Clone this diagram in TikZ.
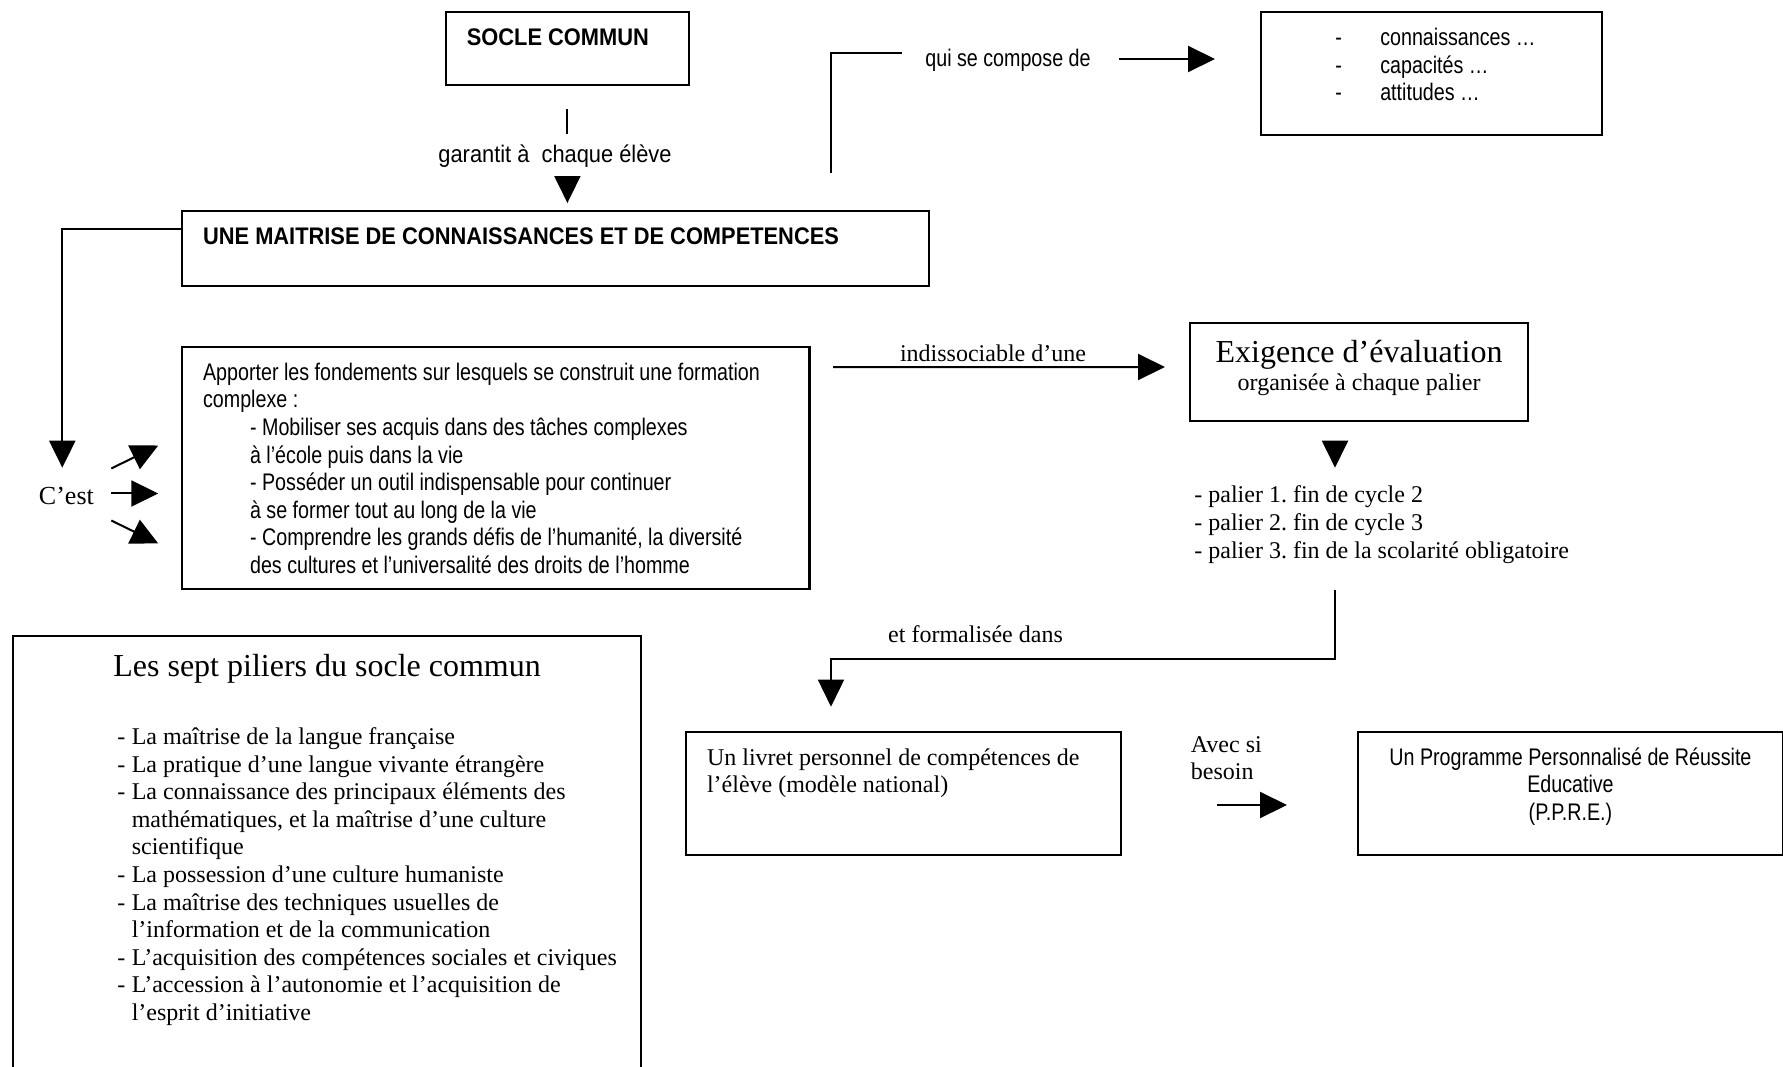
\documentclass[tikz,border=0pt]{standalone}
\usepackage{fontspec}
\setmainfont{Liberation Serif}
\setsansfont{Liberation Sans}[FakeStretch=0.82]
\newfontfamily\widesans{Liberation Sans}[FakeStretch=0.91]
\usetikzlibrary{arrows.meta}
\usetikzlibrary{calc}

% text of a Word-like box: width, height, content (top aligned)
\newcommand{\boxtext}[3]{\parbox[c][\dimexpr#2-14.2pt\relax][t]{\dimexpr#1-21.2pt\relax}{#3}}
\newcommand{\tiret}{\hspace*{26.5pt}\makebox[22.5pt][l]{-}}
\newcommand{\puce}{\par\hangindent=48.75pt\hangafter=1\hspace*{41.5pt}\makebox[7.25pt][l]{-}}
\newcommand{\lignes}[1]{\begin{tabular}[t]{@{}l@{}}#1\end{tabular}}

\begin{document}
\frenchspacing
\begin{tikzpicture}[x=0.5pt,y=0.5pt,yscale=-1,xscale=1,
  wbox/.style={draw, line width=1.1pt, anchor=north west, inner xsep=10.6pt, inner ysep=7.1pt,
    font=\sffamily\fontsize{12}{13.8}\selectfont},
  sanstext/.style={inner sep=0pt, font=\sffamily\fontsize{12}{13.8}\selectfont},
  seriftext/.style={inner sep=0pt, font=\rmfamily\fontsize{12}{13.8}\selectfont},
  arr/.style={-{Triangle[length=13.5pt,width=13pt]}, line width=1pt},
  thinline/.style={line width=0.8pt}]
\fill[white] (0,0) rectangle (1783,1066);
\useasboundingbox (0,0) rectangle (1783,1066);

% Text Node
\node[wbox] (socle) at (444.6,11) {\boxtext{121.7pt}{36.5pt}{\strut\widesans\bfseries SOCLE COMMUN}};
% Text Node
\node[wbox] (une) at (180.8,210) {\boxtext{373.6pt}{37.25pt}{\strut\widesans\bfseries UNE MAITRISE DE CONNAISSANCES ET DE COMPETENCES}};
% Text Node
\node[wbox] (conn) at (1260,11) {\boxtext{170.25pt}{61.5pt}{\strut\tiret connaissances …\\\tiret capacités …\\\tiret attitudes …}};
% Text Node
\node[wbox] (appo) at (180.8,345.6) {\boxtext{313.8pt}{121.1pt}{\raggedright\strut Apporter les fondements sur lesquels se construit une formation\\ complexe :\par
  \leftskip=23.5pt - Mobiliser ses acquis dans des tâches complexes\\ à l’école puis dans la vie\\ - Posséder un outil indispensable pour continuer\\ à se former tout au long de la vie\\ - Comprendre les grands défis de l’humanité, la diversité\\ des cultures et l’universalité des droits de l’homme}};
% Text Node
\node[wbox] (exig) at (1189,321.8) {\boxtext{169pt}{48.85pt}{\centering\rmfamily\fontsize{16}{18.4}\selectfont\strut Exigence d’évaluation\par
  \fontsize{12}{14}\selectfont organisée à chaque palier\par}};
% Text Node
\node[wbox] (livret) at (684.7,730.7) {\boxtext{217.65pt}{61.4pt}{\rmfamily\strut Un livret personnel de compétences de\\ l’élève (modèle national)}};
% Text Node
\node[wbox] (ppre) at (1356.7,730.7) {\boxtext{212.65pt}{61.4pt}{\centering\strut Un Programme Personnalisé de Réussite\\ Educative\\ (P.P.R.E.)}};
% Text Node
\node[wbox] (piliers) at (12,635) {\boxtext{314pt}{220pt}{\rmfamily{\centering\fontsize{16}{18.4}\selectfont\strut Les sept piliers du socle commun\par}
  \vspace{19.2pt}\fontsize{12}{13.8}\selectfont
  \puce La maîtrise de la langue française
  \puce La pratique d’une langue vivante étrangère
  \puce La connaissance des principaux éléments des\\ mathématiques, et la maîtrise d’une culture\\ scientifique
  \puce La possession d’une culture humaniste
  \puce La maîtrise des techniques usuelles de\\ l’information et de la communication
  \puce \mbox{L’acquisition des compétences sociales et civiques}
  \puce L’accession à l’autonomie et l’acquisition de\\ l’esprit d’initiative\par}};

% Text Node
\node[sanstext, font=\widesans\fontsize{12}{13.8}\selectfont, anchor=base] (garantit) at (555,162) {garantit à~~chaque élève};
% Text Node
\node[sanstext, anchor=base west] (qui) at (925,66) {qui se compose de};
% Text Node
\node[inner sep=0pt, font=\rmfamily\fontsize{13}{15}\selectfont, anchor=base west] (cest) at (38.6,504) {C’est};
\coordinate (cest-in) at (62.3,467.7);
% Text Node
\node[seriftext, anchor=base] (indis) at (993,361) {indissociable d’une};
% Text Node
\node[seriftext, font=\rmfamily\fontsize{12}{14.2}\selectfont, anchor=base west] (paliers) at (1194,502) {\lignes{- palier 1. fin de cycle 2\\ - palier 2. fin de cycle 3\\ - palier 3. fin de la scolarité obligatoire}};
% Text Node
\node[seriftext, anchor=base] (formal) at (975.5,642) {et formalisée dans};
% Text Node
\node[seriftext, anchor=base west] (avec) at (1190.5,752) {\lignes{Avec si\\ besoin}};

% Connection
\draw[line width=1pt] ($(socle.south)+(0,23)$) -- ($(socle.south)+(0,48)$);
% Connection
\draw[arr] ($(socle.south |- une.north)+(0,-34)$) -- ($(socle.south |- une.north)+(0,-7)$);
% Connection
\draw[arr, line width=1.1pt] ($(une.north west)+(0,19)$) -| (cest-in);
% Connection
\draw[arr] ($(cest.east)+(17,-27)$) -- ($(cest.east)+(64,-50)$);
% Connection
\draw[arr] ($(cest.east)+(17,-2)$) -- ($(cest.east)+(64,-2)$);
% Connection
\draw[arr] ($(cest.east)+(17,25)$) -- ($(cest.east)+(64,48)$);
% Connection
\draw[thinline] ($(une.north west)+(650.2,-37)$) |- ($(qui.base west)+(-23,-13)$);
% Connection
\draw[arr] ($(qui.base east)+(28,-7)$) -- ($(conn.north west)+(-45,48)$);
% Connection
\draw[arr] ($(appo.north east)+(22.6,21.4)$) -- ($(exig.north west)+(-24,45.2)$);
% Connection
\draw[arr] ($(exig.south west)+(146,19.5)$) -- ($(exig.south west)+(146,46)$);
% Connection
\draw[arr, thinline] ($(exig.south west)+(146,168.5)$) |- ($(livret.north west)+(146.3,-71.7)$) -- ($(livret.north west)+(146.3,-24)$);
% Connection
\draw[arr] ($(livret.north east)+(95,74.3)$) -- ($(ppre.north west)+(-69.7,74.3)$);

\end{tikzpicture}
\end{document}
